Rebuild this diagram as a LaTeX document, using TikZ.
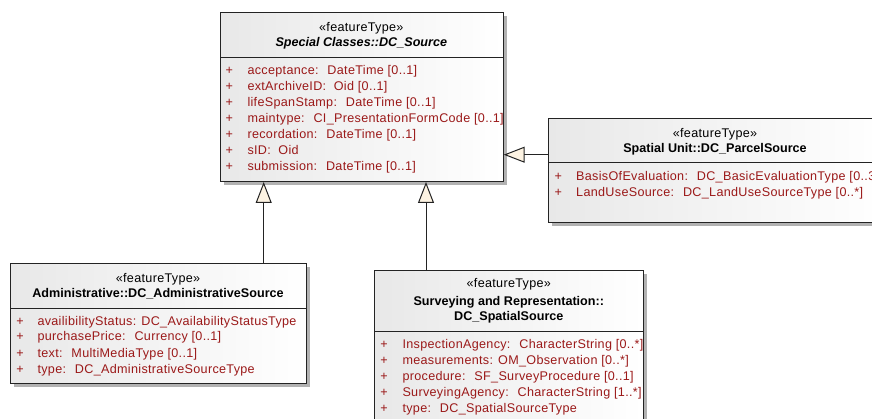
\documentclass[tikz,border=0pt]{standalone}
\usepackage{fontspec}
\setmainfont{Liberation Sans}
\newfontfamily\regfam[LetterSpace=2.5]{Liberation Sans}
\newfontfamily\boldfam{Liberation Sans}
\newcommand\rgf{\regfam\fontsize{12.6}{15}\selectfont}
\newcommand\bdf{\boldfam\bfseries\fontsize{12.6}{15}\selectfont}
\newcommand\bif{\boldfam\bfseries\itshape\fontsize{12.6}{15}\selectfont}
\usetikzlibrary{arrows.meta,shadows}
\definecolor{attr}{RGB}{155,25,25}
\definecolor{cream}{RGB}{253,243,226}
\definecolor{edgec}{RGB}{35,35,35}
\tikzset{
  box/.style={rectangle, draw=edgec, line width=1pt, inner sep=0pt, anchor=north west,
    left color=black!9, right color=white,
    drop shadow={shadow xshift=3.5pt, shadow yshift=-3.5pt, fill=black!30, opacity=1}},
  divider/.style={draw=edgec, line width=1pt},
  stereo/.style={anchor=base, inner sep=0pt, font=\rgf},
  ttl/.style={anchor=base, inner sep=0pt, font=\bdf},
  ttli/.style={anchor=base, inner sep=0pt, font=\bif},
  plus/.style={anchor=base, inner sep=0pt, text=attr, font=\rgf},
  attrt/.style={anchor=base west, inner sep=0pt, text=attr, font=\rgf},
  gen/.style={draw=edgec, line width=1pt, -{Triangle[length=21pt,width=16pt,fill=cream]}}
}
\begin{document}
\begin{tikzpicture}[x=1pt,y=-1pt]
\useasboundingbox (0,0) rectangle (872,419);
\clip (0,0) rectangle (872,419);
% boxes
\node[box, minimum width=282.7pt, minimum height=169pt] (src) at (220,12) {};
\node[box, minimum width=337pt, minimum height=104pt] (parcel) at (548,117.7) {};
\node[box, minimum width=296pt, minimum height=120pt] (admin) at (10,263.3) {};
\node[box, minimum width=268.7pt, minimum height=165pt] (spatial) at (374,270) {};
% dividers
\coordinate (d1) at (0,57.3);
\draw[divider] (src.west |- d1) -- (src.east |- d1);
\coordinate (d2) at (0,163);
\draw[divider] (parcel.west |- d2) -- (parcel.east |- d2);
\coordinate (d3) at (0,308.3);
\draw[divider] (admin.west |- d3) -- (admin.east |- d3);
\coordinate (d4) at (0,331);
\draw[divider] (spatial.west |- d4) -- (spatial.east |- d4);
% DC_Source
\node[stereo] (src-st) at (361.3,31.7) {«featureType»};
\node[ttli] (src-t) at (361.3,46.7) {Special Classes::DC\_Source};
\foreach \i/\t [count=\k] in {0/{acceptance: \ DateTime [0..1]},1/{extArchiveID: \ Oid [0..1]},2/{lifeSpanStamp: \ DateTime [0..1]},3/{maintype: \ CI\_PresentationFormCode [0..1]},4/{recordation: \ DateTime [0..1]},5/{sID: \ Oid},6/{submission: \ DateTime [0..1]}}{
  \node[plus] (src-p\k) at (229.3,75+15.95*\i) {+};
  \node[attrt] (src-a\k) at (247.3,75+15.95*\i) {\t};
}
% DC_ParcelSource
\node[stereo] (par-st) at (715,137.3) {«featureType»};
\node[ttl] (par-t) at (715,152.7) {Spatial Unit::DC\_ParcelSource};
\foreach \i/\t [count=\k] in {0/{BasisOfEvaluation: \ DC\_BasicEvaluationType [0..3]},1/{LandUseSource: \ DC\_LandUseSourceType [0..*]}}{
  \node[plus] (par-p\k) at (558.3,180.7+15.6*\i) {+};
  \node[attrt] (par-a\k) at (576,180.7+15.6*\i) {\t};
}
% DC_AdministrativeSource
\node[stereo] (adm-st) at (158,282.3) {«featureType»};
\node[ttl] (adm-t) at (158,297.7) {Administrative::DC\_AdministrativeSource};
\foreach \i/\t [count=\k] in {0/{availibilityStatus: DC\_AvailabilityStatusType},1/{purchasePrice: \ Currency [0..1]},2/{text: \ MultiMediaType [0..1]},3/{type: \ DC\_AdministrativeSourceType}}{
  \node[plus] (adm-p\k) at (20,325+16*\i) {+};
  \node[attrt] (adm-a\k) at (37.3,325+16*\i) {\t};
}
% DC_SpatialSource
\node[stereo] (spa-st) at (508.8,287.7) {«featureType»};
\node[ttl] (spa-t1) at (508.8,305.7) {Surveying and Representation::};
\node[ttl] (spa-t2) at (508.8,320.7) {DC\_SpatialSource};
\foreach \i/\t [count=\k] in {0/{InspectionAgency: \ CharacterString [0..*]},1/{measurements: OM\_Observation [0..*]},2/{procedure: \ SF\_SurveyProcedure [0..1]},3/{SurveyingAgency: \ CharacterString [1..*]},4/{type: \ DC\_SpatialSourceType}}{
  \node[plus] (spa-p\k) at (384,348.3+16*\i) {+};
  \node[attrt] (spa-a\k) at (402.3,348.3+16*\i) {\t};
}
% generalizations
\coordinate (g1) at (263.7,0);
\draw[gen] (g1 |- admin.north) -- (g1 |- src.south);
\coordinate (g2) at (426,0);
\draw[gen] (g2 |- spatial.north) -- (g2 |- src.south);
\coordinate (g3) at (0,154.7);
\draw[gen] (g3 -| parcel.west) -- (g3 -| src.east);
\end{tikzpicture}
\end{document}
